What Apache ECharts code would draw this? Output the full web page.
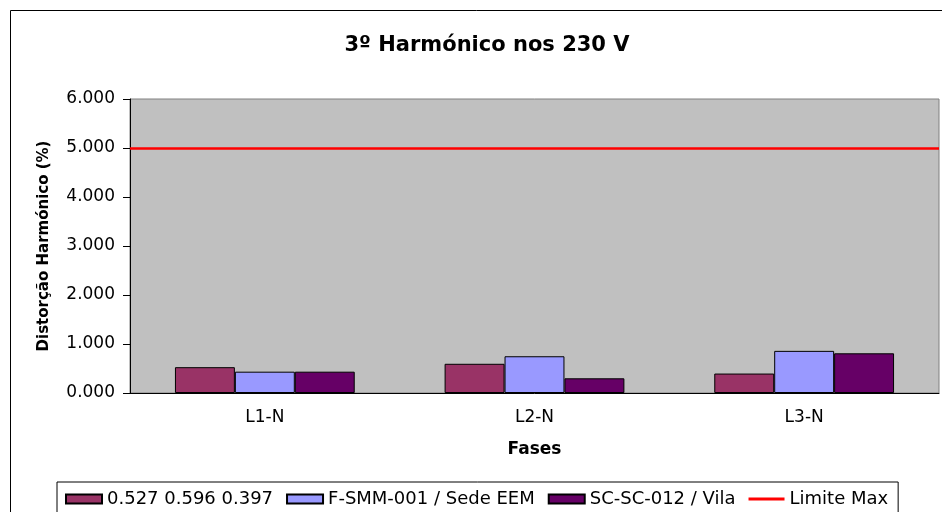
<!DOCTYPE html>
<html>
<head>
<meta charset="utf-8">
<script src="https://cdn.jsdelivr.net/npm/echarts@6/dist/echarts.min.js"></script>
<style>
html,body{margin:0;padding:0;background:#fff;}
#chart{width:942px;height:512px;}
</style>
</head>
<body>
<div id="chart"></div>
<script>
const categories = ['L1-N', 'L2-N', 'L3-N'];
const seriesNames = ['0.527 0.596 0.397', 'F-SMM-001 / Sede EEM', 'SC-SC-012 / Vila'];
const series1 = [0.527, 0.596, 0.397];
const series2 = [0.435, 0.750, 0.860];
const series3 = [0.435, 0.300, 0.810];
const limitName = 'Limite Max';
const limitValue = [5.0];
const yTicks = [0, 1, 2, 3, 4, 5, 6];

const font = 'DejaVu Sans';
const colors = ['#993366', '#9999FF', '#660066'];
const values = [series1, series2, series3];

const chart = echarts.init(document.getElementById('chart'));
const barSeries = values.map((v, i) => ({
  name: seriesNames[i],
  type: 'bar',
  data: v,
  barGap: '0%',
  barCategoryGap: '33.33%',
  itemStyle: { color: colors[i], borderColor: '#000', borderWidth: 1 },
  emphasis: { disabled: true }
}));

const legendData = seriesNames.map(n => ({ name: n, icon: 'rect' }))
  .concat([{ name: limitName, icon: 'path://M0,0 L38,0 L38,3 L0,3 Z' }]);

chart.setOption({
  animation: false,
  backgroundColor: '#fff',
  textStyle: { fontFamily: font, color: '#000' },
  graphic: [{
    type: 'rect', silent: true, z: -10,
    shape: { x: 10.5, y: 10.5, width: 1200, height: 800 },
    style: { fill: 'none', stroke: '#000', lineWidth: 1 }
  }],
  title: {
    text: '3º Harmónico nos 230 V',
    left: 482, top: 30, textAlign: 'center',
    textStyle: { fontFamily: font, fontWeight: 'bold', fontSize: 21, color: '#000' }
  },
  grid: {
    left: 130, right: 3, top: 99, bottom: 119,
    show: true, backgroundColor: '#C0C0C0', borderColor: '#808080', borderWidth: 1
  },
  legend: {
    left: 57, top: 482,
    padding: [8, 10, 20, 8],
    itemWidth: 36, itemHeight: 9, itemGap: 13,
    borderColor: '#000', borderWidth: 1,
    textStyle: { fontFamily: font, fontSize: 18, color: '#000' },
    data: legendData
  },
  xAxis: {
    type: 'category',
    data: categories,
    name: 'Fases',
    nameLocation: 'middle',
    nameGap: 48,
    nameTextStyle: { fontFamily: font, fontWeight: 'bold', fontSize: 17, color: '#000' },
    axisLine: { lineStyle: { color: '#000', width: 1 } },
    axisTick: { length: 6, lineStyle: { color: '#000' } },
    axisLabel: { fontFamily: font, fontSize: 17, color: '#000', margin: 16 },
    splitLine: { show: false }
  },
  yAxis: {
    type: 'value',
    min: yTicks[0], max: yTicks[yTicks.length - 1], interval: 1,
    name: 'Distorção Harmónico (%)',
    nameLocation: 'middle',
    nameGap: 78,
    nameTextStyle: { fontFamily: font, fontWeight: 'bold', fontSize: 15, color: '#000' },
    axisLine: { show: true, lineStyle: { color: '#000', width: 1 } },
    axisTick: { show: true, length: 7, lineStyle: { color: '#000' } },
    axisLabel: { fontFamily: font, fontSize: 17, color: '#000', margin: 15,
      formatter: v => v.toFixed(3) },
    splitLine: { show: false }
  },
  series: barSeries.concat([{
    name: limitName,
    type: 'line',
    data: [],
    symbol: 'none',
    lineStyle: { color: '#FF0000', width: 2 },
    itemStyle: { color: '#FF0000' },
    markLine: {
      silent: true, symbol: 'none', label: { show: false },
      lineStyle: { color: '#FF0000', width: 2.5, type: 'solid' },
      data: [{ yAxis: limitValue[0] }]
    }
  }])
});
</script>
</body>
</html>
